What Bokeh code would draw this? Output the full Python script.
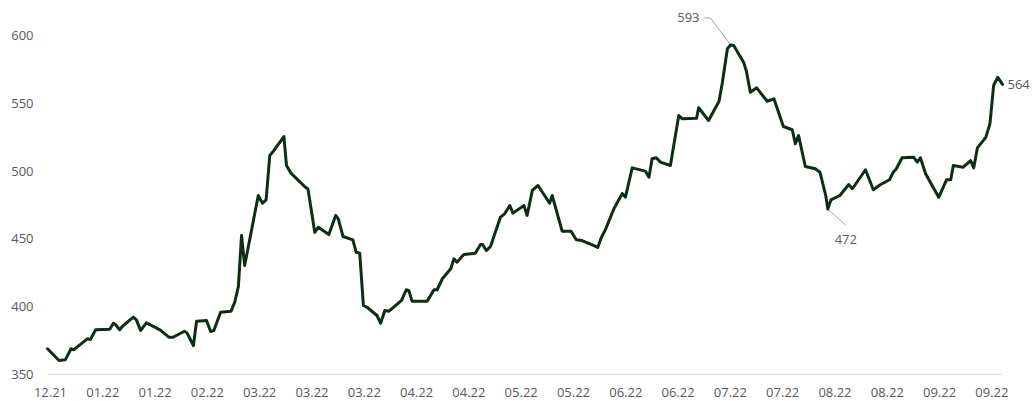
from bokeh.plotting import figure
from bokeh.models import Range1d
from bokeh.core.properties import value
from bokeh.embed import file_html
from bokeh.resources import INLINE

# ---- data (trading-day position, price) ----
day = [0, 2.2, 3.4, 4.5, 5.0, 7.6, 8.2, 9.2, 11.9, 12.6,
       13.0, 13.8, 14.3, 16.4, 17.0, 17.8, 18.9, 20.8, 21.7, 23.2,
       24.0, 26.2, 26.7, 27.9, 28.5, 30.4, 31.2, 31.8, 33.1, 35.1,
       35.8, 36.5, 37.1, 37.7, 40.3, 41.1, 41.8, 42.5, 43.3, 45.2,
       45.7, 46.5, 49.3, 49.8, 51.1, 51.8, 53.8, 55.1, 55.6, 56.5,
       58.4, 59.0, 59.7, 60.4, 61.1, 63.0, 63.7, 64.5, 65.3, 67.7,
       68.6, 69.1, 69.7, 72.6, 73.9, 74.5, 75.5, 77.1, 77.7, 78.3,
       79.6, 81.8, 82.8, 83.2, 83.9, 84.7, 86.6, 87.4, 88.4, 89.0,
       91.1, 91.7, 92.7, 93.8, 96.0, 96.5, 98.4, 100.1, 101.1, 102.2,
       104.5, 105.2, 105.9, 106.7, 108.3, 109.9, 110.5, 111.8, 114.3, 115.0,
       115.6, 116.4, 117.2, 119.1, 120.7, 121.4, 124.1, 124.5, 126.4, 128.4,
       129.0, 130.0, 130.6, 131.2, 133.1, 133.6, 134.4, 135.6, 137.6, 138.9,
       140.7, 142.4, 143.0, 143.6, 144.9, 146.8, 147.7, 148.8, 149.2, 149.8,
       151.5, 153.2, 153.9, 156.4, 157.9, 159.3, 161.0, 161.7, 162.3, 163.4,
       165.6, 166.3, 166.9, 167.9, 168.8, 170.4, 171.9, 172.7, 173.2, 175.1,
       176.5, 177.1, 177.8, 179.4, 180.2, 180.9, 181.7, 182.6]

price = [369.0, 360.3, 360.8, 369.0, 368.2, 376.3, 375.8, 383.0, 383.4, 387.8,
         386.9, 383.0, 385.4, 392.3, 390.3, 382.4, 388.1, 384.4, 382.4, 377.5,
         377.5, 381.9, 380.5, 371.4, 389.3, 389.8, 381.7, 382.4, 395.9, 396.7,
         403.3, 415.0, 452.5, 430.4, 482.0, 476.3, 478.8, 511.5, 515.2, 525.5,
         504.1, 498.7, 488.1, 486.9, 454.9, 458.6, 453.2, 467.3, 464.8, 451.8,
         449.3, 440.2, 439.5, 400.9, 399.6, 393.5, 387.8, 397.2, 396.7, 404.6,
         412.5, 411.9, 404.1, 404.1, 412.5, 412.5, 420.6, 428.0, 435.3, 432.8,
         438.5, 439.5, 445.9, 445.9, 441.4, 444.4, 466.0, 468.5, 474.6, 469.0,
         474.6, 467.3, 485.7, 489.4, 476.3, 482.0, 455.7, 455.7, 449.3, 448.8,
         445.1, 443.7, 451.0, 457.0, 472.2, 483.5, 480.8, 502.4, 500.0, 495.5,
         509.1, 509.8, 506.6, 504.1, 541.0, 538.6, 539.0, 546.7, 537.3, 551.5,
         564.4, 590.2, 593.0, 592.6, 580.3, 574.2, 558.2, 561.4, 551.5, 553.3,
         532.9, 530.5, 520.1, 526.3, 503.4, 501.7, 499.2, 482.0, 472.0, 478.8,
         482.0, 490.1, 487.0, 501.0, 486.2, 490.1, 493.6, 499.2, 501.7, 509.8,
         510.3, 506.6, 509.8, 498.0, 491.8, 480.7, 493.6, 493.6, 504.1, 502.9,
         507.8, 502.4, 517.1, 524.9, 534.8, 563.1, 569.2, 564.0]

tick_labels = ["12.21", "01.22", "01.22", "02.22", "03.22", "03.22", "03.22",
               "04.22", "04.22", "05.22", "05.22", "06.22", "06.22", "07.22",
               "07.22", "08.22", "08.22", "09.22", "09.22"]
y_ticks = [350, 400, 450, 500, 550, 600]

# ---- layout ----
PX_X = 5.23     # px per day
PX_Y = 1.356    # px per price unit
W, H = 1036, 401
FIRST_PX = 47   # pixel column of the first point
BASE_PX = 374   # pixel row of the 350 baseline

x0 = day[0] - FIRST_PX / PX_X
x1 = x0 + W / PX_X
y0 = y_ticks[0] - (H - BASE_PX) / PX_Y
y1 = y_ticks[0] + BASE_PX / PX_Y

tick_pos = [day[0] + 0.57 + 10 * i for i in range(len(tick_labels))]

FONT = "Open Sans"
TXT = "#595959"
LINE = "#0e2e14"
LEADER = "#a6a6a6"

p = figure(width=W, height=H, output_backend="svg", toolbar_location=None,
           x_range=Range1d(x0, x1), y_range=Range1d(y0, y1),
           min_border=0)
p.outline_line_color = None
p.grid.visible = False
p.axis.visible = False
p.background_fill_color = "white"
p.border_fill_color = "white"

# value axis labels (right-aligned, left of the plot area)
p.text(x=[day[0] - 14 / PX_X] * len(y_ticks), y=y_ticks,
       text=[str(v) for v in y_ticks],
       text_font=value(FONT), text_font_size="13px", text_color=TXT,
       text_align="right", text_baseline="middle")

# category axis: baseline and labels
p.segment(x0=[day[0]], y0=[y_ticks[0]], x1=[day[-1]], y1=[y_ticks[0]],
          line_color="#d9d9d9", line_width=1)
p.text(x=tick_pos, y=[y_ticks[0] - 18 / PX_Y] * len(tick_pos), text=tick_labels,
       text_font=value(FONT), text_font_size="13px", text_color=TXT,
       text_align="center", text_baseline="middle")

# annotated points
i_peak = price.index(max(price))
i_low = i_peak + price[i_peak:].index(min(price[i_peak:]))
i_last = len(price) - 1

xp, yp = day[i_peak], price[i_peak]
xl, yl = day[i_low], price[i_low]
xe, ye = day[i_last], price[i_last]

# leader lines
p.line(x=[xp, xp - 20 / PX_X, xp - 27 / PX_X],
       y=[yp, yp + 27 / PX_Y, yp + 27 / PX_Y],
       line_color=LEADER, line_width=1)
p.line(x=[xl, xl + 18 / PX_X], y=[yl, yl - 16 / PX_Y],
       line_color=LEADER, line_width=1)

# main series
p.line(x=day, y=price, line_color=LINE, line_width=3,
       line_join="round", line_cap="round")

# data labels
p.text(x=[xp - 31 / PX_X], y=[yp + 27 / PX_Y], text=[f"{yp:.0f}"],
       text_font=value(FONT), text_font_size="13px", text_color=TXT,
       text_align="right", text_baseline="middle")
p.text(x=[xl + 18 / PX_X], y=[yl - 30 / PX_Y], text=[f"{yl:.0f}"],
       text_font=value(FONT), text_font_size="13px", text_color=TXT,
       text_align="center", text_baseline="middle")
p.text(x=[xe + 5 / PX_X], y=[ye], text=[f"{ye:.0f}"],
       text_font=value(FONT), text_font_size="13px", text_color=TXT,
       text_align="left", text_baseline="middle")

open("out.html", "w").write(file_html(p, INLINE))
